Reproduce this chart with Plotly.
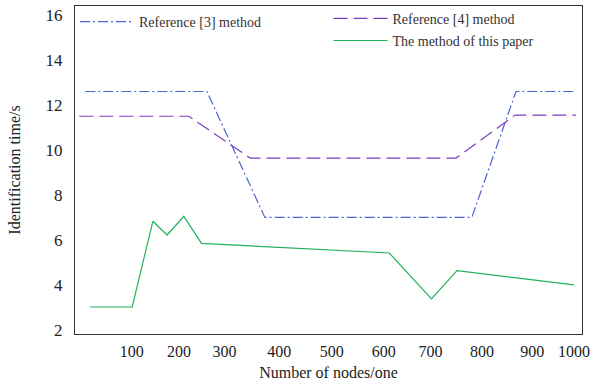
import plotly.graph_objects as go

# x values are expressed in the chart's node-count units
tick_values = [100, 196, 289, 400, 507, 613, 708, 813, 915, 1000]
tick_labels = ["100", "200", "300", "400", "500", "600", "700", "800", "900", "1000"]

ref3_x = [5.6, 253, 371, 792, 882, 1002]
ref3_y = [12.6, 12.6, 7.0, 7.0, 12.6, 12.6]

ref4_x = [-6.6, 216, 341, 760, 880, 1004]
ref4_y = [11.5, 11.5, 9.64, 9.64, 11.55, 11.55]

ours_x = [15, 101, 143, 172, 206, 242, 624, 710, 762, 1000]
ours_y = [3.02, 3.02, 6.83, 6.22, 7.05, 5.85, 5.42, 3.38, 4.64, 4.0]

font = "Liberation Serif, Times New Roman, serif"

fig = go.Figure()
fig.add_trace(go.Scatter(x=ref3_x, y=ref3_y, mode="lines", name="Reference [3] method",
                         line=dict(color="#4d64d2", width=1.2, dash="10px,3px,2px,3px"),
                         legend="legend"))
fig.add_trace(go.Scatter(x=ref4_x, y=ref4_y, mode="lines", name="Reference [4] method",
                         line=dict(color="#7b3dc4", width=1.2, dash="14px,6px"), legend="legend2",
                         legendgroup="a"))
fig.add_trace(go.Scatter(x=ours_x, y=ours_y, mode="lines", name="The method of this paper",
                         line=dict(color="#1fb25a", width=1.2), legend="legend2",
                         legendgroup="b"))

fig.update_layout(
    width=594, height=392,
    showlegend=True,
    margin=dict(l=75, r=12, t=6, b=58, autoexpand=False),
    plot_bgcolor="white", paper_bgcolor="white",
    font=dict(family=font, size=15, color="#222"),
    legend=dict(x=0.0, y=1.0, xanchor="left", yanchor="top", bgcolor="rgba(0,0,0,0)",
                itemwidth=54,
                font=dict(family=font, size=14, color="#333"), tracegroupgap=0),
    legend2=dict(x=0.5, y=1.01, xanchor="left", yanchor="top", bgcolor="rgba(0,0,0,0)",
                 itemwidth=54,
                 font=dict(family=font, size=14, color="#333"), tracegroupgap=1),
    xaxis=dict(range=[-15.4, 1016.3], tickvals=tick_values, ticktext=tick_labels,
               automargin=False,
               showgrid=False, zeroline=False, showline=True, linecolor="#333", linewidth=1.2,
               mirror=True, ticks="", ticklabelstandoff=3,
               tickfont=dict(size=16, family=font, color="#222"),
               title=dict(text="Number of nodes/one", standoff=7,
                          font=dict(size=16, family=font, color="#222"))),
    yaxis=dict(range=[1.82, 16.4], tickvals=[2, 4, 6, 8, 10, 12, 14, 16],
               automargin=False,
               showgrid=False, zeroline=False, showline=True, linecolor="#333", linewidth=1.2,
               mirror=True, ticks="", ticklabelstandoff=8,
               tickfont=dict(size=17, family=font, color="#222"),
               title=dict(text="Identification time/s", standoff=20,
                          font=dict(size=16, family=font, color="#222"))),
)

fig.write_html("out.html", config={"displayModeBar": False},
               post_script="document.body.style.margin='0';")
